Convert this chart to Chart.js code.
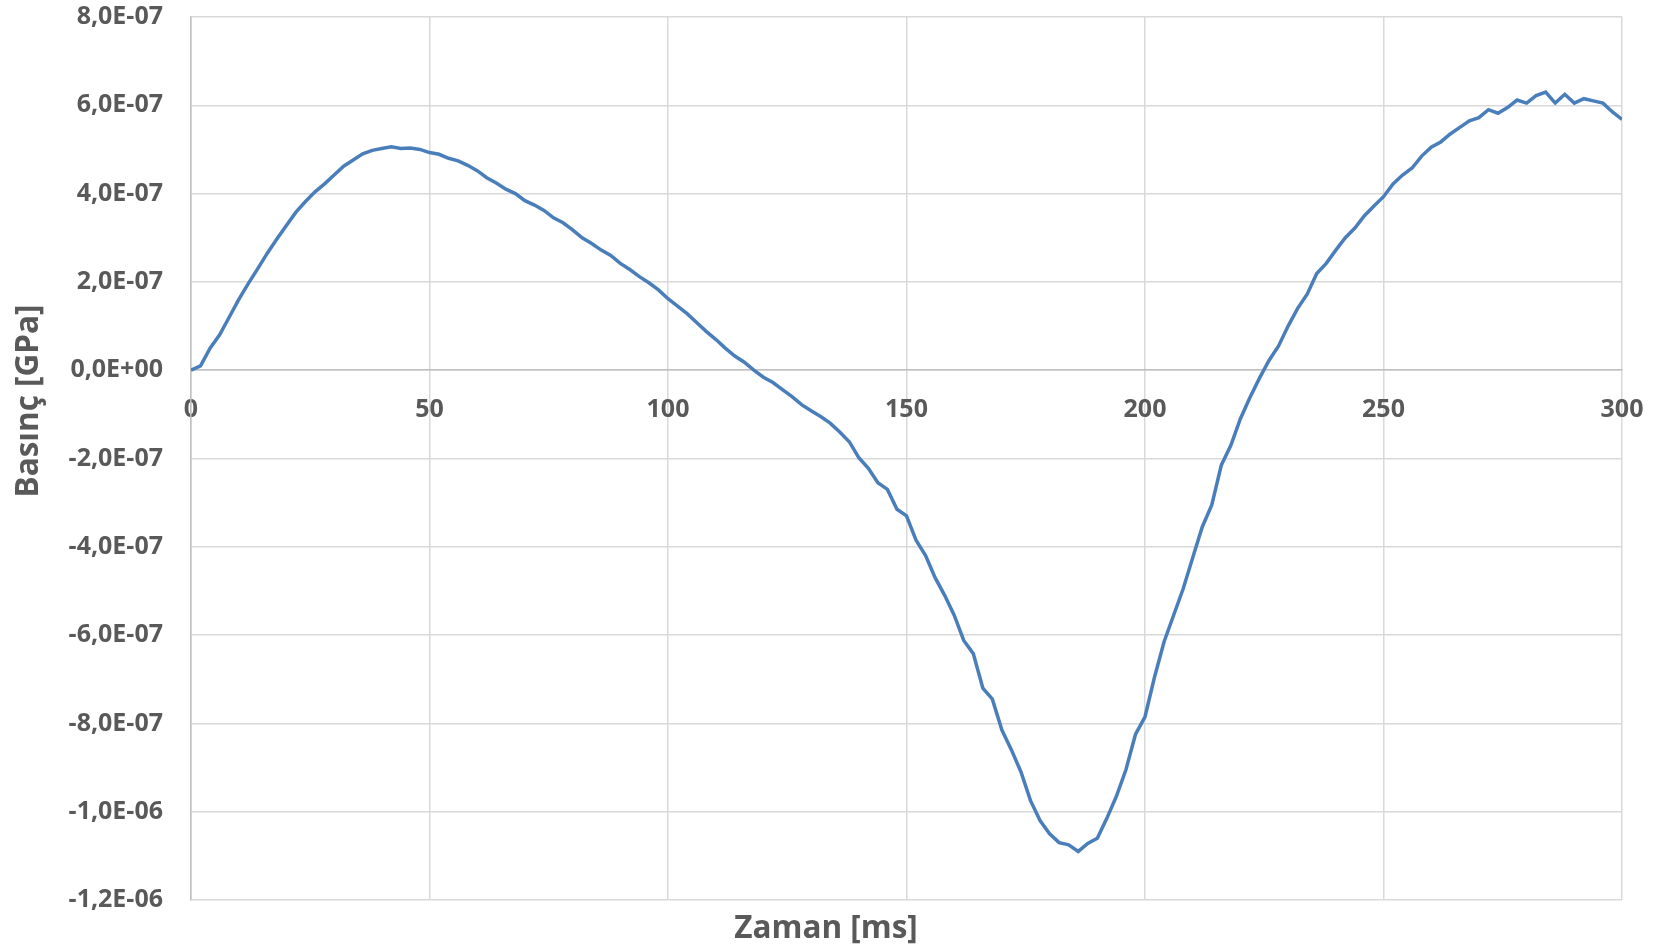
<!DOCTYPE html>
<html>
<head>
<meta charset="utf-8">
<script src="https://cdn.jsdelivr.net/npm/chart.js@4/dist/chart.umd.min.js"></script>
<style>
  html, body { margin: 0; padding: 0; background: #ffffff; }
  #wrap { width: 1665px; height: 949px; }
</style>
</head>
<body>
<div id="wrap"><canvas id="c" width="1665" height="949"></canvas></div>
<script>
// Time [ms]
const timeMs = [
  0, 2, 4, 6, 8, 10, 12, 14, 16, 18, 20, 22, 24, 26, 28, 30, 32, 34, 36, 38,
  40, 42, 44, 46, 48, 50, 52, 54, 56, 58, 60, 62, 64, 66, 68, 70, 72, 74, 76, 78,
  80, 82, 84, 86, 88, 90, 92, 94, 96, 98, 100, 102, 104, 106, 108, 110, 112, 114, 116, 118,
  120, 122, 124, 126, 128, 130, 132, 134, 136, 138, 140, 142, 144, 146, 148, 150, 152, 154, 156, 158,
  160, 162, 164, 166, 168, 170, 172, 174, 176, 178, 180, 182, 184, 186, 188, 190, 192, 194, 196, 198,
  200, 202, 204, 206, 208, 210, 212, 214, 216, 218, 220, 222, 224, 226, 228, 230, 232, 234, 236, 238,
  240, 242, 244, 246, 248, 250, 252, 254, 256, 258, 260, 262, 264, 266, 268, 270, 272, 274, 276, 278,
  280, 282, 284, 286, 288, 290, 292, 294, 296, 298, 300
];
// Pressure, in units of 1E-07 GPa
const pressureE7 = [
  0.00, 0.10, 0.50, 0.80, 1.20, 1.60, 1.96, 2.30, 2.65, 2.97, 3.28, 3.58, 3.82, 4.04, 4.22, 4.42, 4.62, 4.76, 4.90, 4.98,
  5.02, 5.06, 5.02, 5.03, 5.00, 4.93, 4.89, 4.80, 4.74, 4.64, 4.52, 4.36, 4.24, 4.10, 4.00, 3.84, 3.74, 3.62, 3.45, 3.34,
  3.18, 3.00, 2.87, 2.72, 2.60, 2.42, 2.28, 2.12, 1.98, 1.82, 1.62, 1.45, 1.28, 1.08, 0.88, 0.70, 0.50, 0.32, 0.18, 0.00,
  -0.16, -0.28, -0.44, -0.60, -0.78, -0.92, -1.05, -1.20, -1.40, -1.62, -1.98, -2.22, -2.55, -2.70, -3.15, -3.30, -3.85, -4.20, -4.70, -5.10,
  -5.55, -6.12, -6.42, -7.20, -7.45, -8.15, -8.60, -9.10, -9.75, -10.20, -10.50, -10.70, -10.75, -10.90, -10.72, -10.60, -10.15, -9.65, -9.05, -8.25,
  -7.85, -6.95, -6.15, -5.55, -4.95, -4.25, -3.55, -3.05, -2.15, -1.70, -1.10, -0.62, -0.18, 0.22, 0.55, 1.00, 1.40, 1.72, 2.19, 2.42,
  2.72, 3.00, 3.22, 3.50, 3.72, 3.93, 4.22, 4.42, 4.58, 4.85, 5.05, 5.17, 5.35, 5.50, 5.65, 5.72, 5.90, 5.82, 5.95, 6.12,
  6.05, 6.22, 6.30, 6.05, 6.25, 6.05, 6.15, 6.10, 6.05, 5.85, 5.68
];
const UNIT = 1e-7;
const xTicks = [0, 50, 100, 150, 200, 250, 300];
const yTicks = [8e-7, 6e-7, 4e-7, 2e-7, 0, -2e-7, -4e-7, -6e-7, -8e-7, -1e-6, -1.2e-6];
const xTitle = 'Zaman [ms]';
const yTitle = 'Basınç [GPa]';

const points = timeMs.map((t, i) => ({ x: t, y: pressureE7[i] * UNIT }));

function fmtE(v) {
  if (Math.abs(v) < 1e-12) return '0,0E+00';
  const parts = v.toExponential(1).split('e');
  const en = parseInt(parts[1], 10);
  return parts[0].replace('.', ',') + 'E' + (en < 0 ? '-' : '+') + String(Math.abs(en)).padStart(2, '0');
}

const TEXT = '#595959';
const FONT = '"Open Sans", "DejaVu Sans", sans-serif';

const titlesPlugin = {
  id: 'axisTitles',
  afterDraw(chart) {
    const ctx = chart.ctx;
    ctx.save();
    ctx.fillStyle = TEXT;
    ctx.font = 'bold 31.5px ' + FONT;
    ctx.textAlign = 'center';
    ctx.textBaseline = 'middle';
    ctx.fillText(xTitle, 826, 929);
    ctx.translate(29, 401);
    ctx.rotate(-Math.PI / 2);
    ctx.fillText(yTitle, 0, 0);
    ctx.restore();
  }
};

new Chart(document.getElementById('c'), {
  type: 'line',
  data: {
    datasets: [{
      data: points,
      borderColor: '#4a7ebb',
      borderWidth: 3.5,
      pointRadius: 0,
      fill: false,
      tension: 0
    }]
  },
  options: {
    responsive: false,
    animation: false,
    layout: { padding: { left: 0, top: 17, right: 43, bottom: 49 } },
    plugins: { legend: { display: false }, tooltip: { enabled: false } },
    scales: {
      x: {
        type: 'linear',
        position: { y: 0 },
        min: 0, max: 300,
        afterBuildTicks(scale) { scale.ticks = xTicks.map(v => ({ value: v })); },
        grid: { color: '#d9d9d9', lineWidth: 1.5, drawTicks: true, tickLength: 25, tickColor: 'rgba(0,0,0,0)' },
        border: { display: true, color: '#bfbfbf', width: 1.5 },
        ticks: {
          color: TEXT, padding: 0, maxRotation: 0,
          font: { family: FONT, size: 25, weight: 'bold' }
        }
      },
      y: {
        type: 'linear',
        position: 'left',
        min: -1.2e-6, max: 8e-7,
        afterBuildTicks(scale) { scale.ticks = yTicks.map(v => ({ value: v })); },
        afterFit(scale) { scale.width = 191; },
        grid: { color: '#d9d9d9', lineWidth: 1.5, drawTicks: true, tickLength: 28, tickColor: 'rgba(0,0,0,0)' },
        border: { display: true, color: '#bfbfbf', width: 1.5 },
        ticks: {
          color: TEXT, padding: 0,
          font: { family: FONT, size: 25, weight: 'bold' },
          callback: (v) => fmtE(v)
        }
      }
    }
  },
  plugins: [titlesPlugin]
});
</script>
</body>
</html>
